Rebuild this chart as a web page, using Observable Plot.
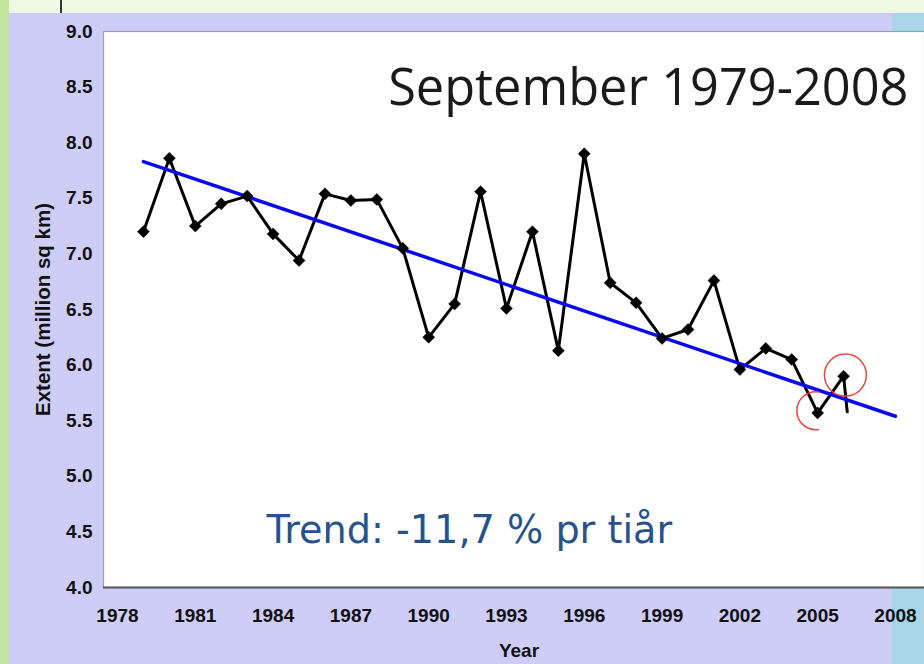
<!DOCTYPE html>
<html>
<head>
<meta charset="utf-8">
<script src="https://cdn.jsdelivr.net/npm/d3@7"></script>
<script src="https://cdn.jsdelivr.net/npm/@observablehq/plot@0.6"></script>
<style>
  html, body { margin: 0; padding: 0; }
  body { width: 924px; height: 664px; position: relative; overflow: hidden; background: #cdcdf8; }
  .bg { position: absolute; }
  #chart { position: absolute; left: 0; top: 0; }
</style>
</head>
<body>
<div class="bg" style="left:0;top:0;width:9px;height:664px;background:#c4e59e;"></div>
<div class="bg" style="left:9px;top:0;width:915px;height:13px;background:#eef8e3;"></div>
<div class="bg" style="left:60px;top:0;width:2px;height:13px;background:#333;"></div>
<div class="bg" style="left:892px;top:13px;width:32px;height:18px;background:#a9d6e6;"></div>
<div class="bg" style="left:892px;top:588px;width:32px;height:76px;background:#a9d6e6;"></div>
<div id="chart"></div>
<script>
// Data
const years = [1979,1980,1981,1982,1983,1984,1985,1986,1987,1988,1989,1990,1991,1992,1993,1994,1995,1996,1997,1998,1999,2000,2001,2002,2003,2004,2005,2006];
const extent = [7.20,7.86,7.25,7.45,7.52,7.18,6.94,7.54,7.48,7.49,7.05,6.25,6.55,7.56,6.51,7.20,6.13,7.90,6.74,6.56,6.24,6.32,6.76,5.96,6.15,6.05,5.57,5.90];
const stubYears = [2006, 2006.14];
const stubValues = [5.90, 5.58];
const trendYears = [1979, 2008];
const trendValues = [7.83, 5.54];
const circleYears = [2004.93, 2006.07];
const circleValues = [5.59, 5.91];
const xTicks = [1978,1981,1984,1987,1990,1993,1996,1999,2002,2005,2008];
const yTicks = [4.0,4.5,5.0,5.5,6.0,6.5,7.0,7.5,8.0,8.5,9.0];
const titleText = "September 1979-2008";
const trendText = "Trend: -11,7 % pr tiår";
const xLabel = "Year";
const yLabel = "Extent (million sq km)";

const series = years.map((y, i) => ({year: y, value: extent[i]}));
const stub = stubYears.map((y, i) => ({year: y, value: stubValues[i]}));
const trend = trendYears.map((y, i) => ({year: y, value: trendValues[i]}));
const circles = circleYears.map((y, i) => ({year: y, value: circleValues[i]}));

const chart = Plot.plot({
  width: 924,
  height: 664,
  marginLeft: 103,
  marginRight: 0,
  marginTop: 31,
  marginBottom: 77,
  style: {background: "transparent", fontFamily: "'Liberation Sans', Arial, sans-serif"},
  x: {domain: [1977.46, 2009.12]},
  y: {domain: [4, 9]},
  marks: [
    Plot.frame({fill: "white", stroke: "#a0a0a0", strokeWidth: 1.2}),
    Plot.ruleY([4], {stroke: "#555", strokeWidth: 2}),
    Plot.axisX(xTicks, {tickSize: 0, tickPadding: 21, fontSize: 19, fontWeight: "bold", fill: "#111", label: null, tickFormat: d => String(d)}),
    Plot.axisY(yTicks, {tickSize: 0, tickPadding: 11, fontSize: 19, fontWeight: "bold", fill: "#111", label: null, tickFormat: d => d.toFixed(1)}),
    Plot.text([xLabel], {frameAnchor: "bottom", dx: 5, dy: 69, fontSize: 19, fontWeight: "bold", fill: "#111"}),
    Plot.text([yLabel], {frameAnchor: "left", textAnchor: "middle", lineAnchor: "middle", dx: -60.5, rotate: -90, fontSize: 20.5, fontWeight: "bold", fill: "#111"}),
    Plot.line(series, {x: "year", y: "value", stroke: "black", strokeWidth: 3, strokeLinejoin: "miter"}),
    Plot.line(stub, {x: "year", y: "value", stroke: "black", strokeWidth: 3}),
    Plot.line(trend, {x: "year", y: "value", stroke: "#0a0af0", strokeWidth: 3.5}),
    Plot.dot(series, {x: "year", y: "value", symbol: "diamond2", r: 5.4, fill: "black", stroke: "black", strokeWidth: 0.5}),
    Plot.dot([circles[0]], {x: "year", y: "value", r: 19, stroke: "#e8453f", strokeWidth: 1.5, fill: "none", strokeDasharray: "66 53.4", strokeDashoffset: -26.5}),
    Plot.dot([circles[1]], {x: "year", y: "value", r: 21, stroke: "#e8453f", strokeWidth: 1.5, fill: "none"}),
    Plot.text([titleText], {frameAnchor: "top-right", textAnchor: "end", dx: -16, dy: 38, fontSize: 50.5, fontFamily: "'Open Sans', sans-serif", fill: "#1a1a1a"}),
    Plot.text([trendText], {frameAnchor: "bottom-left", textAnchor: "start", dx: 163, dy: -45, fontSize: 38.2, fontFamily: "'DejaVu Sans', Verdana, sans-serif", fill: "#27538a"})
  ]
});
document.getElementById("chart").appendChild(chart);
</script>
</body>
</html>
